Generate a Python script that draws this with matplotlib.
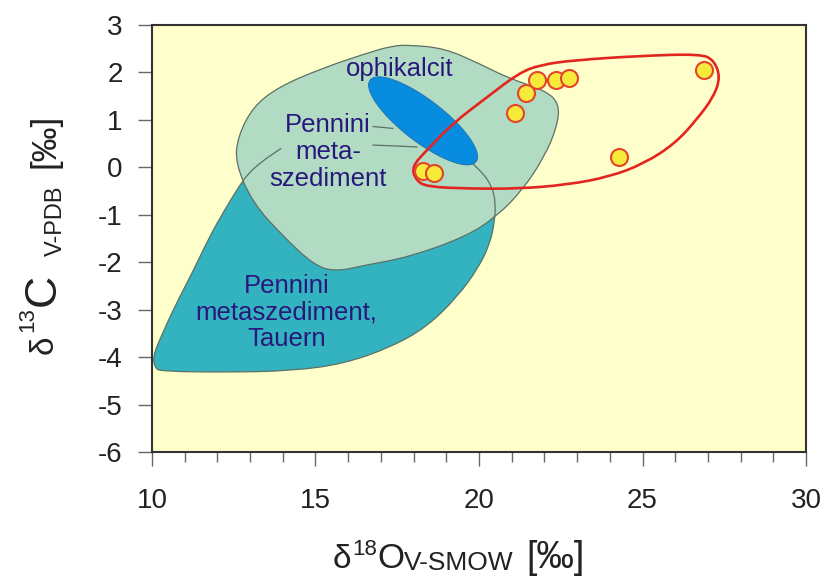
import numpy as np
import matplotlib.pyplot as plt
from matplotlib.path import Path
from matplotlib.patches import PathPatch, Polygon
from matplotlib.ticker import MultipleLocator

plt.rcParams['font.family'] = ['Liberation Sans', 'DejaVu Sans']
plt.rcParams['axes.unicode_minus'] = False

# measured samples (d18O, d13C)
d18o = [18.29, 18.62, 21.10, 21.44, 21.77, 22.35, 22.75, 24.28, 26.88]
d13c = [-0.08, -0.12, 1.15, 1.57, 1.84, 1.84, 1.88, 0.22, 2.05]

# field of the samples
field_x = [17.94, 18.40, 19.20, 20.27, 21.20, 21.86, 22.93, 24.92, 26.78, 27.18,
           27.38, 27.18, 26.65, 25.99, 25.05, 23.99, 22.66, 21.20, 19.74, 18.40, 18.07]
field_y = [0.01, 0.36, 0.93, 1.49, 1.98, 2.16, 2.26, 2.35, 2.39, 2.26,
           1.91, 1.49, 1.00, 0.50, 0.08, -0.20, -0.37, -0.45, -0.45, -0.41, -0.27]

# Pennini metaszediment
penn_x = [17.87, 18.94, 20.00, 20.93, 22.00, 22.46, 22.39, 22.00, 21.33, 20.53, 19.60,
          17.87, 16.54, 15.61, 14.95, 14.02, 13.09, 12.55, 12.62, 13.09, 13.88, 15.21,
          16.54, 17.34]
penn_y = [2.58, 2.51, 2.19, 1.87, 1.63, 1.35, 0.86, 0.22, -0.48, -1.04, -1.46,
          -1.89, -2.06, -2.20, -2.06, -1.46, -0.76, 0.08, 0.64, 1.28, 1.70, 2.09,
          2.40, 2.56]

# Pennini metaszediment, Tauern (open outline, top edge hidden)
taur_x = [13.95, 13.35, 12.95, 12.69, 12.22, 11.76, 11.22, 10.69, 10.23, 10.03, 10.09,
          10.29, 12.29, 14.28, 15.88, 17.34, 18.41, 19.34, 20.00, 20.33, 20.47, 20.51,
          20.40, 20.13, 19.74]
taur_y = [0.40, 0.12, -0.13, -0.37, -0.90, -1.46, -2.24, -2.94, -3.64, -3.99, -4.23,
          -4.30, -4.32, -4.29, -4.14, -3.78, -3.36, -2.73, -2.10, -1.61, -1.18, -0.76,
          -0.41, -0.13, 0.12]

# ophikalcit ellipse: centre, half major axis, half minor axis
oph_c = (18.29, 0.98)
oph_u = (1.62, -0.86)
oph_v = (-0.39, -0.35)

# axis titles: (text, font size, baseline offset px, gap before px)
xlabel_parts = [('δ', 24, 568, 0), ('18', 16, 555, 1), ('O', 25, 568, 0),
                ('V-SMOW', 19, 570, 0), ('[‰]', 27, 568, 12)]
ylabel_parts = [('δ', 24, 53, 0), ('13', 16, 33, 4), ('C', 32, 55, 1),
                ('V-PDB', 17, 62, 17), ('[‰]', 25, 55, 18)]

navy = '#29187c'
outline = '#5d7066'
label_col = '#222222'


def smooth_path(xs, ys, closed=True):
    pts = np.column_stack([xs, ys])
    if closed:
        pts = np.vstack([pts, pts[:2]])
    mids = (pts[:-1] + pts[1:]) / 2
    verts = [mids[0]]
    codes = [Path.MOVETO]
    for i in range(1, len(mids)):
        verts += [pts[i], mids[i]]
        codes += [Path.CURVE3, Path.CURVE3]
    if not closed:
        verts = [pts[0]] + verts + [pts[-1]]
        codes = [Path.MOVETO, Path.LINETO] + codes[1:] + [Path.LINETO]
    return Path(verts, codes)


def px(x, y):
    return x / 826, 1 - y / 586


fig = plt.figure(figsize=(8.26, 5.86), dpi=100)
ax = fig.add_axes([0.184, 0.2287, 0.7918, 0.7286])
ax.set_facecolor('#ffffcc')

# Tauern field
ax.add_patch(PathPatch(smooth_path(taur_x, taur_y), facecolor='#33b2c0',
                       edgecolor='none', zorder=1))
# Pennini field
ax.add_patch(PathPatch(smooth_path(penn_x, penn_y), facecolor='#b2dbc4',
                       edgecolor=outline, lw=0.9, zorder=2))
ax.add_patch(PathPatch(smooth_path(taur_x, taur_y, closed=False), facecolor='none',
                       edgecolor=outline, lw=0.9, zorder=3))

# ophikalcit
t = np.linspace(0, 2 * np.pi, 200)
ex = oph_c[0] + oph_u[0] * np.cos(t) + oph_v[0] * np.sin(t)
ey = oph_c[1] + oph_u[1] * np.cos(t) + oph_v[1] * np.sin(t)
ax.add_patch(Polygon(np.column_stack([ex, ey]), closed=True, facecolor='#078ce0',
                     edgecolor='#1f6fa8', lw=0.6, zorder=4))

# leader lines
ax.plot([16.76, 17.37], [0.86, 0.82], color=outline, lw=0.9, zorder=3)
ax.plot([16.76, 18.10], [0.47, 0.43], color=outline, lw=0.9, zorder=3)

# sample field and samples
ax.add_patch(PathPatch(smooth_path(field_x, field_y), facecolor='none',
                       edgecolor='#e2261f', lw=1.9, zorder=5))
ax.scatter(d18o, d13c, s=150, facecolor='#f6ea3a', edgecolor='#e4452b',
           linewidth=1.5, zorder=6)

ax.text(17.58, 2.07, 'ophikalcit', color=navy, fontsize=18.5, ha='center',
        va='center', zorder=7)
ax.text(15.38, 0.32, 'Pennini\nmeta-\nszediment', color=navy, fontsize=18.5,
        ha='center', va='center', linespacing=1.15, zorder=7)
ax.text(14.12, -3.06, 'Pennini\nmetaszediment,\nTauern', color=navy, fontsize=18.5,
        ha='center', va='center', linespacing=1.15, zorder=7)

ax.set_xlim(10, 30)
ax.set_ylim(-6, 3)
ax.xaxis.set_major_locator(MultipleLocator(5))
ax.xaxis.set_minor_locator(MultipleLocator(1))
ax.yaxis.set_major_locator(MultipleLocator(1))
ax.tick_params(axis='both', which='major', direction='out', length=10, width=1,
               color='#666666', labelsize=20, labelcolor=label_col)
ax.tick_params(axis='x', which='minor', direction='out', length=7, width=1,
               color='#666666')
ax.tick_params(axis='x', which='major', pad=16)
ax.tick_params(axis='y', which='major', pad=11)
for s in ax.spines.values():
    s.set_color('#333333')
    s.set_linewidth(1.5)

renderer = fig.canvas.get_renderer()

# x axis title, laid out piece by piece from the left
pos = 333
for text, size, base, gap in xlabel_parts:
    pos += gap
    tx = fig.text(*px(pos, base), text, fontsize=size, ha='left', va='baseline',
                  color=label_col)
    pos += tx.get_window_extent(renderer).width

# y axis title, rotated, laid out upwards from the bottom
pos = 354
for text, size, base, gap in ylabel_parts:
    pos -= gap
    ty = fig.text(*px(base, pos), text, fontsize=size, ha='left', va='baseline',
                  rotation=90, rotation_mode='anchor', color=label_col)
    pos -= ty.get_window_extent(renderer).height

fig.savefig('out.png', dpi=100)
